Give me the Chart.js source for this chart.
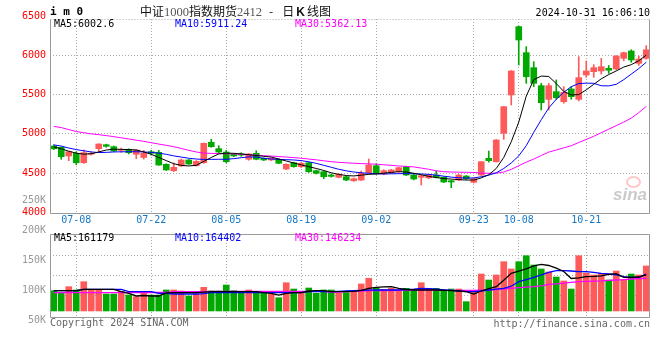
<!DOCTYPE html>
<html><head><meta charset="utf-8">
<script src="https://cdn.jsdelivr.net/npm/chart.js@4.4.1/dist/chart.umd.min.js"></script>
<style>
html,body{margin:0;padding:0;background:#fff;}
#wrap{position:relative;width:660px;height:360px;overflow:hidden;background:#fff;}
canvas{position:absolute;left:0;top:0;}
.t{position:absolute;white-space:nowrap;font-family:'DejaVu Sans Mono',monospace;font-size:10px;line-height:12px;}
.title{position:absolute;white-space:nowrap;font-family:'Noto Sans CJK SC',sans-serif;font-size:12px;line-height:14px;color:#111;}
.num{font-family:'Liberation Serif',serif;color:#555;font-size:12.5px;}
</style></head><body>
<div id="wrap">
<canvas id="priceChart" width="660" height="360"></canvas>
<canvas id="volChart" width="660" height="360"></canvas>
<div class="t" style="left:50px;top:5px;font-weight:bold;font-size:11px;line-height:14px;color:#000">i m 0</div>
<div class="title" style="left:140px;top:4px">中证<span class="num">1000</span>指数期货<span class="num">2412</span><span style="margin:0 9px 0 7px">-</span>日<b style="font-family:'Liberation Sans';margin:0 2px">K</b>线图</div>
<div class="t" style="right:10px;top:7px;color:#000">2024-10-31 16:06:10</div>
<div class="t" style="left:54px;top:18px;color:#000">MA5:6002.6</div>
<div class="t" style="left:175px;top:18px;color:#0000ff">MA10:5911.24</div>
<div class="t" style="left:295px;top:18px;color:#ff00ff">MA30:5362.13</div>
<div class="t" style="left:54px;top:232px;color:#000">MA5:161179</div>
<div class="t" style="left:175px;top:232px;color:#0000ff">MA10:164402</div>
<div class="t" style="left:295px;top:232px;color:#ff00ff">MA30:146234</div>
<div class="t" style="left:50px;top:317px;color:#666">Copyright 2024 SINA.COM</div>
<div class="t" style="right:10px;top:318px;color:#666">http://finance.sina.com.cn</div>
<div style="position:absolute;left:626px;top:176px;width:11px;height:8px;border:2px solid rgba(255,130,130,0.45);border-radius:50%"></div>
<div style="position:absolute;left:613px;top:185px;font:italic bold 17px 'Liberation Sans',sans-serif;color:rgba(150,150,150,0.5)">sina</div>
</div>
<script>
const dates = ['07-03','07-04','07-05','07-08','07-09','07-10','07-11','07-12','07-15','07-16','07-17','07-18','07-19','07-22','07-23','07-24','07-25','07-26','07-29','07-30','07-31',
'08-01','08-02','08-05','08-06','08-07','08-08','08-09','08-12','08-13','08-14','08-15','08-16','08-19','08-20','08-21','08-22','08-23','08-26','08-27','08-28','08-29','08-30',
'09-02','09-03','09-04','09-05','09-06','09-09','09-10','09-11','09-12','09-13','09-18','09-19','09-20','09-23','09-24','09-25','09-26','09-27','09-30',
'10-08','10-09','10-10','10-11','10-14','10-15','10-16','10-17','10-18','10-21','10-22','10-23','10-24','10-25','10-28','10-29','10-30','10-31'];

const openP = [4845,4829,4719,4753,4633,4742,4812,4862,4837,4790,
4804,4740,4700,4773,4766,4613,4532,4592,4668,4595,
4633,4893,4812,4769,4740,4745,4677,4753,4689,4668,
4677,4553,4633,4583,4633,4532,4519,4477,4448,4455,
4404,4413,4506,4595,4490,4506,4519,4583,4477,4448,
4440,4477,4448,4404,4413,4464,4384,4477,4689,4646,
5007,5495,6364,6033,5842,5613,5439,5537,5409,5571,
5439,5749,5791,5800,5834,5825,5961,6054,5897,5961];
const highP = [4860,4835,4780,4773,4795,4773,4875,4870,4846,4820,
4810,4800,4790,4790,4790,4620,4630,4680,4675,4660,
4885,4931,4850,4790,4750,4760,4750,4786,4695,4695,
4685,4620,4640,4640,4640,4540,4525,4490,4495,4460,
4440,4530,4680,4620,4545,4550,4575,4590,4485,4475,
4485,4530,4455,4410,4485,4470,4440,4650,4782,4930,
5350,5805,6370,6109,5918,5643,5643,5686,5600,5600,
5982,5927,5880,5960,5870,5995,6040,6070,5990,6122];
const lowP = [4800,4677,4659,4608,4625,4730,4773,4830,4775,4765,
4745,4684,4680,4730,4600,4535,4520,4585,4610,4590,
4625,4830,4760,4630,4710,4715,4665,4670,4660,4660,
4620,4545,4575,4570,4510,4490,4430,4450,4440,4405,
4395,4405,4500,4490,4480,4495,4510,4470,4415,4350,
4430,4440,4380,4316,4405,4420,4375,4470,4640,4640,
4931,5367,5876,5643,5600,5304,5304,5440,5390,5440,
5418,5720,5720,5760,5770,5815,5930,5910,5870,5950];
const closeP = [4810,4710,4773,4633,4761,4752,4871,4842,4782,4800,
4761,4795,4753,4753,4604,4541,4575,4668,4617,4651,
4880,4837,4769,4646,4719,4730,4744,4677,4668,4689,
4626,4613,4583,4626,4519,4499,4455,4460,4486,4413,
4430,4499,4604,4499,4532,4541,4570,4477,4426,4468,
4477,4448,4388,4388,4477,4430,4430,4646,4659,4922,
5346,5800,6194,5727,5643,5397,5613,5460,5529,5473,
5715,5800,5842,5855,5809,5990,6033,5940,5952,6070];

const ma5 = [4835,4810,4780,4755,4742,4748,4770,4795,4805,4803,
4800,4795,4770,4740,4700,4660,4620,4600,4592,4600,
4650,4700,4745,4755,4753,4745,4735,4725,4715,4705,
4680,4655,4630,4605,4583,4560,4535,4505,4485,4470,
4465,4475,4485,4490,4500,4510,4519,4515,4499,4480,
4460,4445,4432,4425,4418,4413,4413,4440,4480,4560,
4700,4900,5150,5480,5690,5735,5730,5640,5540,5495,
5500,5560,5630,5700,5755,5800,5850,5880,5930,6002];
const ma10 = [4860,4845,4820,4800,4785,4770,4762,4765,4770,4772,
4773,4773,4770,4765,4755,4740,4720,4705,4690,4680,
4675,4676,4677,4677,4685,4697,4708,4705,4690,4680,
4676,4672,4668,4660,4645,4625,4600,4575,4550,4530,
4515,4505,4499,4492,4490,4492,4494,4495,4493,4490,
4485,4475,4462,4450,4442,4438,4440,4455,4475,4505,
4560,4630,4720,4850,5020,5180,5330,5440,5530,5600,
5640,5645,5643,5612,5610,5630,5690,5760,5830,5911];
const ma30 = [5095,5080,5055,5030,5015,5000,4990,4978,4965,4950,
4935,4920,4905,4888,4870,4855,4837,4815,4790,4770,
4755,4752,4750,4748,4745,4740,4735,4730,4722,4718,
4712,4705,4698,4690,4680,4670,4658,4646,4638,4632,
4627,4622,4618,4614,4607,4600,4592,4586,4580,4565,
4550,4530,4519,4515,4513,4511,4510,4500,4499,4500,
4515,4549,4595,4640,4680,4725,4768,4795,4822,4850,
4890,4930,4970,5015,5060,5105,5150,5200,5270,5350];

const volume = [99700,96400,106400,100900,114700,102000,102000,94200,94200,98700,
92500,89700,96400,92500,92500,100900,100900,99200,90900,94200,
105400,99200,99200,109200,99700,98000,100900,96400,96400,94200,
88000,113000,102500,98000,104200,95400,100900,100900,95400,96400,
99700,110900,120400,103700,102000,103700,100900,103700,100900,113000,
103700,103700,100900,102500,102500,81400,98000,127500,117500,125900,
148000,135900,148000,158000,142500,135900,130900,122500,115900,102500,
158000,129200,125900,128700,117500,132500,118400,127500,125900,140900];
const volMa5 = [99700,99700,99700,99700,102000,102000,102000,102000,102000,98000,
95400,90900,91700,90900,90900,96200,96400,96400,96400,96400,
97200,98000,98000,98000,98000,98000,98000,98000,96400,95200,
92500,95200,96400,96400,99200,99700,99700,98000,98000,98000,
98700,100200,103700,105200,106200,106400,103700,101700,100900,100900,
100900,100900,100200,99700,99200,98200,94200,99200,103200,106400,
117200,128700,132200,136200,141200,143700,141700,137200,131700,120000,
121000,123000,123500,124500,127000,128000,122000,122000,122500,126000];
const volMa10 = [99700,99700,99700,99700,102000,102000,102000,102000,102000,102000,
98000,98000,98000,98000,95400,95400,94200,94200,94200,94200,
94700,96400,96400,96400,96400,96400,96400,96400,96400,96400,
96400,96400,96400,96400,98000,98000,98000,98000,98700,99200,
99700,100200,100700,100900,100900,100900,100900,101700,102200,103700,
103200,102200,101200,100200,99200,98200,98000,99200,100900,102200,
103700,107200,114700,118200,122000,126200,130200,133000,133000,132500,
131400,131400,130200,128700,127500,125900,123000,122000,122000,127500];
const volMa30 = [96400,96400,96400,96400,96400,96400,96400,96400,96400,96400,
96400,96700,96700,96700,96700,96700,98000,98000,98000,98000,
98000,98700,98700,98700,98700,98700,98700,98700,98700,98700,
98700,98700,98700,98700,98700,98700,98700,97000,97500,98000,
98500,99200,99700,99700,99700,99700,100200,100900,100900,100900,
100900,100200,100200,100200,100200,100200,100200,100700,100900,101700,
102700,103700,104700,105700,106400,107700,110200,111200,112200,113700,
114700,115200,115700,116200,117000,117500,118200,119200,120000,120400];

const dateTicks = ['07-08','07-22','08-05','08-19','09-02','09-23','10-08','10-21'];
const priceTicks = [4000,4500,5000,5500,6000,6500];
const volumeTicks = [50000,100000,150000,200000,250000];
const volumeGridValues = [92500,125800,159100];

const RED = '#ff5a5a', GREEN = '#00a800';
const candleColors = closeP.map((c, i) => c >= openP[i] ? RED : GREEN);
const MONO = "'DejaVu Sans Mono', monospace";
const DOT = 'rgba(160,160,160,0.9)';

const filterDateTicks = s => { s.ticks = s.ticks.filter(t => dateTicks.includes(dates[t.value])); };

const framePlugin = (top, bottom, dottedTop) => ({
  id: 'frame',
  afterDraw(chart) {
    const {ctx} = chart;
    const L = 50.5, R = 649.5;
    ctx.save();
    ctx.strokeStyle = '#999';
    ctx.lineWidth = 1;
    ctx.beginPath();
    ctx.moveTo(L, top); ctx.lineTo(L, bottom); ctx.lineTo(R, bottom); ctx.lineTo(R, top);
    if (!dottedTop) ctx.lineTo(L, top);
    ctx.stroke();
    if (dottedTop) {
      ctx.setLineDash([1, 2]);
      ctx.strokeStyle = DOT;
      ctx.beginPath(); ctx.moveTo(L, top); ctx.lineTo(R, top); ctx.stroke();
    }
    ctx.restore();
  }
});

Chart.defaults.font.family = MONO;

new Chart(document.getElementById('priceChart'), {
  type: 'bar',
  data: {
    labels: dates,
    datasets: [
      {type: 'line', data: ma5, borderColor: '#000', borderWidth: 1, pointRadius: 0, tension: 0, order: 0},
      {type: 'line', data: ma10, borderColor: '#0000ff', borderWidth: 1, pointRadius: 0, tension: 0, order: 0},
      {type: 'line', data: ma30, borderColor: '#ff00ff', borderWidth: 1, pointRadius: 0, tension: 0, order: 0},
      {data: openP.map((o, i) => [o, closeP[i]]), backgroundColor: candleColors, barThickness: 6, grouped: false, borderWidth: 0, order: 1},
      {data: lowP.map((l, i) => [l, highP[i]]), backgroundColor: candleColors, barThickness: 1, grouped: false, borderWidth: 0, order: 2}
    ]
  },
  options: {
    responsive: false, animation: false, devicePixelRatio: 1, events: [],
    layout: {padding: {left: 0, top: 19, right: 10, bottom: 132}},
    plugins: {legend: {display: false}, tooltip: {enabled: false}},
    scales: {
      x: {
        type: 'category', offset: true,
        afterBuildTicks: filterDateTicks,
        afterFit: s => { s.height = 14; },
        grid: {offset: false, drawTicks: false, color: DOT, lineWidth: 1},
        border: {display: false, dash: [1, 2]},
        ticks: {autoSkip: false, maxRotation: 0, color: '#1478c8', padding: 0, font: {family: MONO, size: 10}}
      },
      y: {
        type: 'linear', position: 'left', min: 3981, max: 6461, bounds: 'data',
        afterBuildTicks: s => { s.ticks = priceTicks.map(v => ({value: v})); },
        afterFit: s => { s.width = 50; },
        grid: {drawTicks: false, color: c => (c.tick && c.tick.value > 4000 && c.tick.value < 6500) ? DOT : 'rgba(0,0,0,0)'},
        border: {display: false, dash: [1, 2]},
        ticks: {autoSkip: false, color: '#ff0000', padding: 4, font: {family: MONO, size: 10}, callback: v => String(v)}
      }
    }
  },
  plugins: [framePlugin(19.5, 213.5, true)]
});

new Chart(document.getElementById('volChart'), {
  type: 'bar',
  data: {
    labels: dates,
    datasets: [
      {type: 'line', data: volMa5, borderColor: '#000', borderWidth: 1.3, pointRadius: 0, tension: 0, yAxisID: 'yv', order: 0},
      {type: 'line', data: volMa10, borderColor: '#0000ff', borderWidth: 1.3, pointRadius: 0, tension: 0, yAxisID: 'yv', order: 0},
      {type: 'line', data: volMa30, borderColor: '#ff00ff', borderWidth: 1.3, pointRadius: 0, tension: 0, yAxisID: 'yv', order: 0},
      {data: volume, backgroundColor: candleColors, barThickness: 6, base: 65900, borderWidth: 0, yAxisID: 'yv', order: 1}
    ]
  },
  options: {
    responsive: false, animation: false, devicePixelRatio: 1, events: [],
    layout: {padding: {left: 0, top: 234, right: 10, bottom: 42}},
    plugins: {legend: {display: false}, tooltip: {enabled: false}},
    scales: {
      x: {
        type: 'category', offset: true,
        afterBuildTicks: filterDateTicks,
        afterFit: s => { s.height = 0; },
        grid: {offset: false, drawTicks: false, color: DOT, lineWidth: 1},
        border: {display: false, dash: [1, 2]},
        ticks: {display: false}
      },
      yv: {
        type: 'linear', position: 'left', min: 54200, max: 194200, bounds: 'data',
        afterBuildTicks: s => { s.ticks = volumeTicks.map(v => ({value: v})); },
        afterFit: s => { s.width = 50; },
        grid: {display: true, drawOnChartArea: false, drawTicks: false},
        border: {display: false},
        ticks: {autoSkip: false, color: '#999', padding: 4, font: {family: MONO, size: 10}, callback: v => (v / 1000) + 'K'}
      },
      yg: {
        type: 'linear', position: 'right', min: 54200, max: 194200, bounds: 'data',
        afterBuildTicks: s => { s.ticks = volumeGridValues.map(v => ({value: v})); },
        afterFit: s => { s.width = 0; },
        grid: {drawTicks: false, color: DOT},
        border: {display: false, dash: [1, 2]},
        ticks: {display: false}
      }
    }
  },
  plugins: [framePlugin(234.5, 317.5, false)]
});
</script>
</body></html>
